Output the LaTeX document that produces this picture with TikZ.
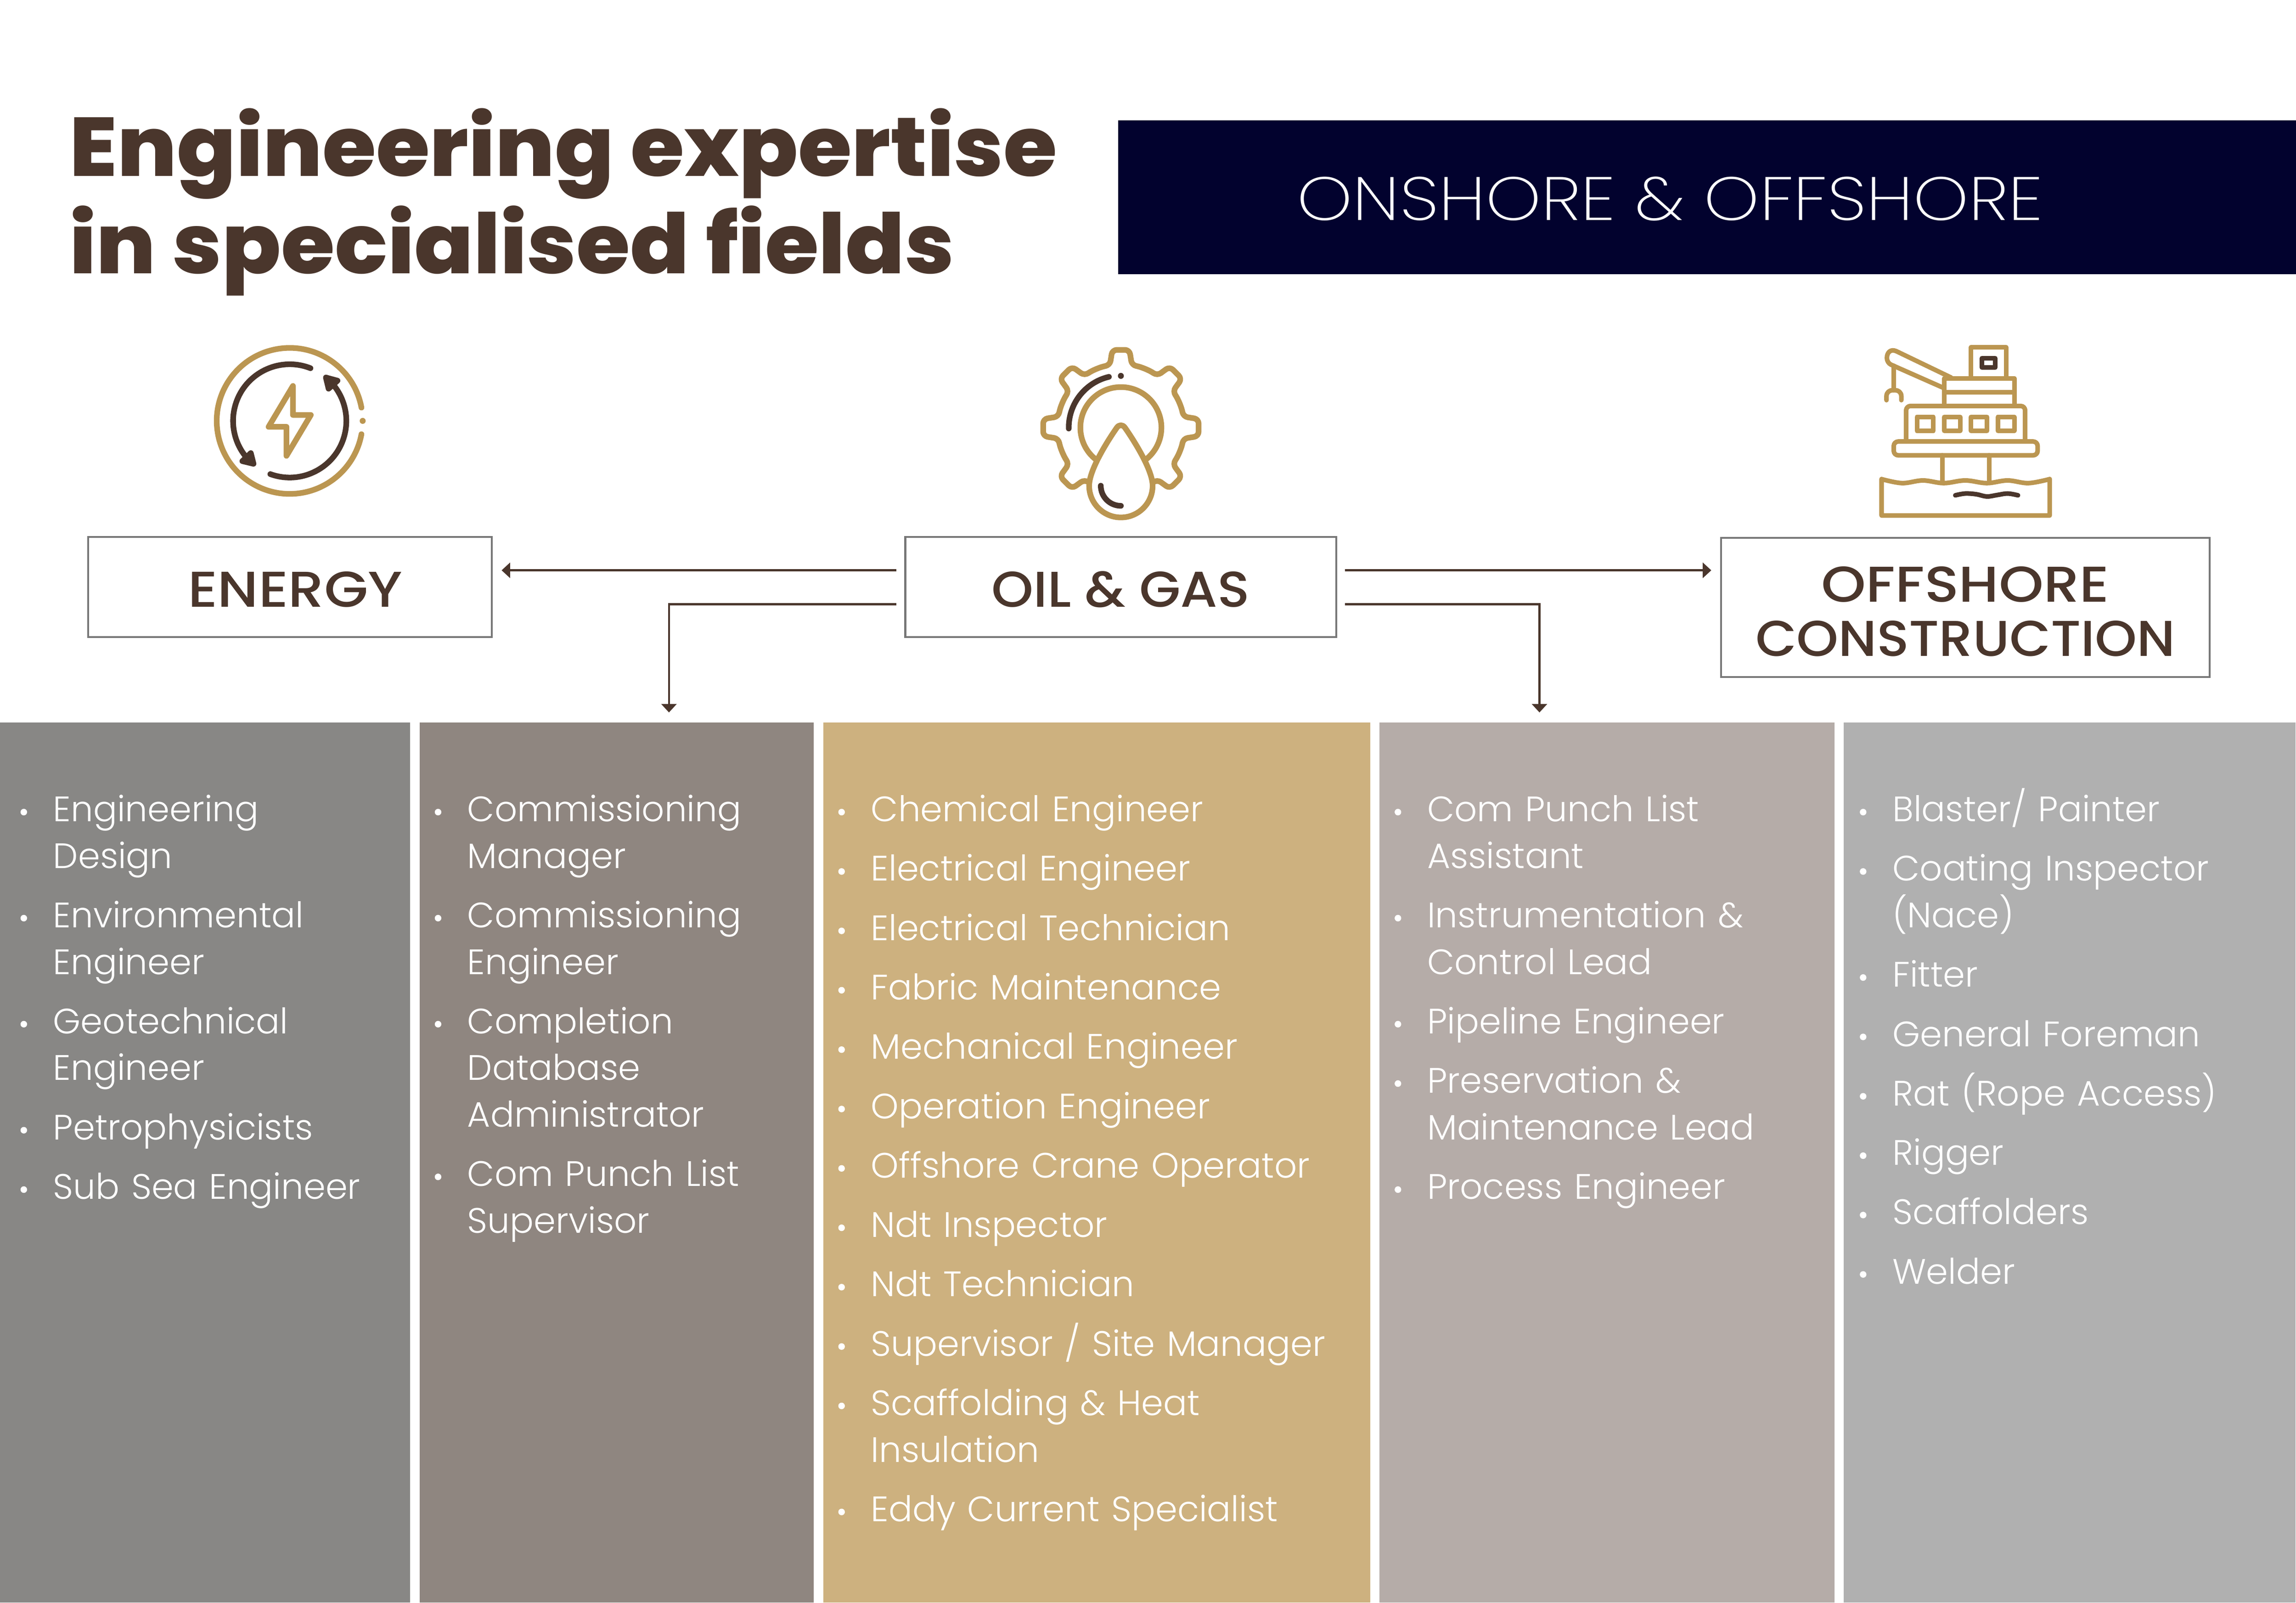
\documentclass[tikz,border=0pt]{standalone}
\usepackage{fontspec}
\setmainfont{Poppins}
\newfontfamily\titlefont[FakeStretch=1.045]{Poppins ExtraBold}
\newfontfamily\bandfont[FakeStretch=1.15]{Poppins ExtraLight}
\newfontfamily\boxfont[FakeStretch=1.06]{Poppins Medium}
\newfontfamily\boxwide[FakeStretch=1.13]{Poppins Medium}
\newfontfamily\jobfont{Poppins Light}
\usetikzlibrary{positioning,arrows.meta}
\definecolor{brown}{HTML}{4A362C}
\definecolor{gold}{HTML}{BB9651}
\definecolor{navy}{HTML}{02022E}
\definecolor{boxgrey}{HTML}{777777}
\definecolor{cola}{HTML}{888785}
\definecolor{colb}{HTML}{8F8680}
\definecolor{colc}{HTML}{CDB17F}
\definecolor{cold}{HTML}{B5ACA8}
\definecolor{cole}{HTML}{B0B0B0}
\newcommand{\job}[1]{\rule{0pt}{22pt}\llap{\tikz[baseline={(0,-6pt)}]\fill[white] (0,0) circle (2.1pt);\hspace{16.6pt}}#1\par\vskip 8.1pt}
\tikzset{
  column/.style={inner sep=0pt, outer sep=0pt, minimum height=19.69cm},
  jobs/.style={anchor=north west, inner sep=0pt, outer sep=0pt, text=white, text width=8.5cm, align=left,
    font=\jobfont\fontsize{22.5}{29.7}\selectfont},
  box/.style={draw=boxgrey, line width=1.3pt, text=brown, align=center, outer sep=0pt,
    font=\boxfont\fontsize{32}{34.5}\selectfont},
  link/.style={draw=brown, line width=1.3pt, -{Triangle[length=5.4pt,width=9.6pt]}, shorten <=.2cm, shorten >=.22cm},
  goldline/.style={draw=gold, line cap=round, line join=round},
  darkline/.style={draw=brown, line cap=round, line join=round},
  energyicon/.pic={
    \begin{scope}[line width=3.6pt]
    \draw[goldline] (10.5:1.633) arc[start angle=10.5, end angle=349.5, radius=1.633];
    \fill[gold] (1.633,0) circle (.067);
    \draw[darkline] (68.5:1.267) arc[start angle=68.5, end angle=228, radius=1.267];
    \draw[darkline] (250:1.267) arc[start angle=250, end angle=410, radius=1.267];
    \filldraw[darkline, fill=brown] (-1.06,-.9) -- (-.81,-.96) -- (-.87,-.72) -- cycle;
    \filldraw[darkline, fill=brown] (.81,.97) -- (1.07,.9) -- (.87,.72) -- cycle;
    \draw[goldline] (.073,.783) -- (.073,.133) -- (.473,.133) -- (-.073,-.783) -- (-.073,-.133) -- (-.473,-.133) -- cycle;
    \end{scope}
  },
  gasicon/.pic={
    \begin{scope}[line width=3.6pt]
    \draw[goldline, rounded corners=.1cm] (240:1.417) arc[start angle=240, end angle=235, radius=1.417]
      \foreach \a in {225,180,...,0} {
        -- (\a+6.3:1.75) -- (\a-6.3:1.75) -- (\a-10:1.417) arc[start angle=\a-10, end angle=\a-35, radius=1.417]
      }
      -- (-38.7:1.75) -- (-51.3:1.75) -- (-55:1.417) arc[start angle=-55, end angle=-60, radius=1.417];
    \draw[goldline] (231.6:.907) arc[start angle=231.6, end angle=-51.6, radius=.907];
    \draw[goldline] (-.09,0) .. controls (-.04,.07) and (.04,.07) .. (.09,0)
      .. controls (.3,-.3) and (.71,-.95) .. (.71,-1.3)
      arc[start angle=0, end angle=-180, radius=.71]
      .. controls (-.71,-.95) and (-.3,-.3) .. (-.09,0) -- cycle;
    \draw[darkline] (103.3:1.167) arc[start angle=103.3, end angle=181, radius=1.167];
    \fill[brown] (0,1.157) circle (.067);
    \draw[darkline] (-.45,-1.3) arc[start angle=180, end angle=270, radius=.45];
    \end{scope}
  },
  rigicon/.pic={
    \begin{scope}[x=.003333cm, y=-.003333cm, line width=2.93pt]
    \draw[goldline] plot[smooth, tension=.6] coordinates {(182,998) (320,1025) (460,1007) (600,1025) (745,1007) (890,1025) (1030,1007) (1170,1025) (1313,998)}
      -- (1313,1243) -- (182,1243) -- cycle;
    \draw[goldline] (590,838) -- (590,1022) (905,838) -- (905,1022);
    \draw[goldline, rounded corners=.1cm] (264,838) -- (264,745) -- (1232,745) -- (1232,838) -- cycle;
    \draw[goldline, rounded corners=.1cm] (347,745) -- (347,506) -- (1148,506) -- (1148,745);
    \foreach \xa/\xb in {420/531,604/711,784/892,964/1075} {
      \draw[goldline] (\xa,580) rectangle (\xb,673);
    }
    \draw[goldline] (604,506) -- (604,320) -- (1075,320) -- (1075,506);
    \draw[goldline] (604,413) -- (1075,413);
    \draw[goldline] (784,320) -- (784,112) -- (1020,112) -- (1020,320);
    \draw[darkline] (857,185) rectangle (947,248);
    \draw[goldline] (650,315) -- (280,137) .. controls (240,120) and (218,150) .. (218,182)
      .. controls (218,205) and (230,220) .. (245,228) -- (600,385);
    \draw[goldline] (265,235) -- (265,400);
    \draw[goldline] (215,467) -- (215,440) .. controls (215,415) and (235,400) .. (255,400) -- (275,400)
      .. controls (295,400) and (315,415) .. (315,440) -- (315,467);
    \draw[darkline] plot[smooth, tension=.6] coordinates {(678,1107) (745,1095) (820,1100) (890,1115) (960,1105) (1030,1095) (1100,1107)};
    \end{scope}
  }
}
\begin{document}
\begin{tikzpicture}
\useasboundingbox (0,0) rectangle (51.38,35.86);

% heading
\node [anchor=north west, inner sep=0pt, text=brown, align=left, font=\titlefont\fontsize{53}{62}\selectfont] (title) at (1.55,33.44) {Engineering expertise\\in specialised fields};
\node [anchor=north west, fill=navy, inner sep=0pt, minimum width=26.37cm, minimum height=3.44cm] (band) at (25.01,33.17) {};
\node [text=white, text height=27.5pt, text depth=0pt, font=\bandfont\fontsize{39}{39}\selectfont] (bandtext) at ([xshift=-.83cm,yshift=-.03cm]band.center) {ONSHORE \& OFFSHORE};

% icons
\pic at (6.483,26.443) {energyicon};
\pic at (25.083,26.293) {gasicon};
\pic at (41.5,28.46) {rigicon};

% boxes
\node [box, minimum width=9.03cm, minimum height=2.24cm, text height=25.5pt, text depth=0pt] (energy) at (6.49,22.725) {\hspace*{.23cm}{\boxwide ENERGY}};
\node [box, minimum width=9.64cm, minimum height=2.24cm, text height=25.5pt, text depth=0pt] (oil) at (25.08,22.725) {OIL \& GAS};
\node [box, minimum width=10.93cm, minimum height=3.11cm] (offshore) at (43.98,22.27) {\rule{0pt}{27.6pt}{\boxwide OFFSHORE}\\CONSTRUCTION};

% columns
\node [column, anchor=north west, fill=cola, minimum width=9.18cm] (col1) at (0,19.7) {};
\node [column, fill=colb, minimum width=8.82cm, right=.21cm of col1.north east, anchor=north west] (col2) {};
\node [column, fill=colc, minimum width=12.24cm, right=.21cm of col2.north east, anchor=north west] (col3) {};
\node [column, fill=cold, minimum width=10.18cm, right=.21cm of col3.north east, anchor=north west] (col4) {};
\node [column, fill=cole, minimum width=10.11cm, right=.21cm of col4.north east, anchor=north west] (col5) {};

\coordinate (drop2) at ([xshift=1.17cm]col2.north);
\coordinate (drop4) at ([xshift=-1.51cm]col4.north);

% connectors
\draw [link] ([yshift=.375cm]oil.west) -- ([yshift=.375cm]oil.west -| energy.east);
\draw [link] ([yshift=.375cm]oil.east) -- ([yshift=.375cm]oil.east -| offshore.west);
\draw [link] ([yshift=-.385cm]oil.west) -| (drop2);
\draw [link] ([yshift=-.385cm]oil.east) -| (drop4);

% job lists
\node [jobs] (jobs1) at ([xshift=1.19cm,yshift=-1.447cm]col1.north west) {%
\job{Engineering\\Design}
\job{Environmental\\Engineer}
\job{Geotechnical\\Engineer}
\job{Petrophysicists}
\job{Sub Sea Engineer}};
\node [jobs] (jobs2) at ([xshift=1.07cm,yshift=-1.447cm]col2.north west) {%
\job{Commissioning\\Manager}
\job{Commissioning\\Engineer}
\job{Completion\\Database\\Administrator}
\job{Com Punch List\\Supervisor}};
\node [jobs, text width=10.5cm] (jobs3) at ([xshift=1.07cm,yshift=-1.447cm]col3.north west) {%
\job{Chemical Engineer}
\job{Electrical Engineer}
\job{Electrical Technician}
\job{Fabric Maintenance}
\job{Mechanical Engineer}
\job{Operation Engineer}
\job{Offshore Crane Operator}
\job{Ndt Inspector}
\job{Ndt Technician}
\job{Supervisor / Site Manager}
\job{Scaffolding \& Heat\\Insulation}
\job{Eddy Current Specialist}};
\node [jobs] (jobs4) at ([xshift=1.07cm,yshift=-1.447cm]col4.north west) {%
\job{Com Punch List\\Assistant}
\job{Instrumentation \&\\Control Lead}
\job{Pipeline Engineer}
\job{Preservation \&\\Maintenance Lead}
\job{Process Engineer}};
\node [jobs] (jobs5) at ([xshift=1.09cm,yshift=-1.447cm]col5.north west) {%
\job{Blaster/ Painter}
\job{Coating Inspector\\(Nace)}
\job{Fitter}
\job{General Foreman}
\job{Rat (Rope Access)}
\job{Rigger}
\job{Scaffolders}
\job{Welder}};

\end{tikzpicture}
\end{document}
